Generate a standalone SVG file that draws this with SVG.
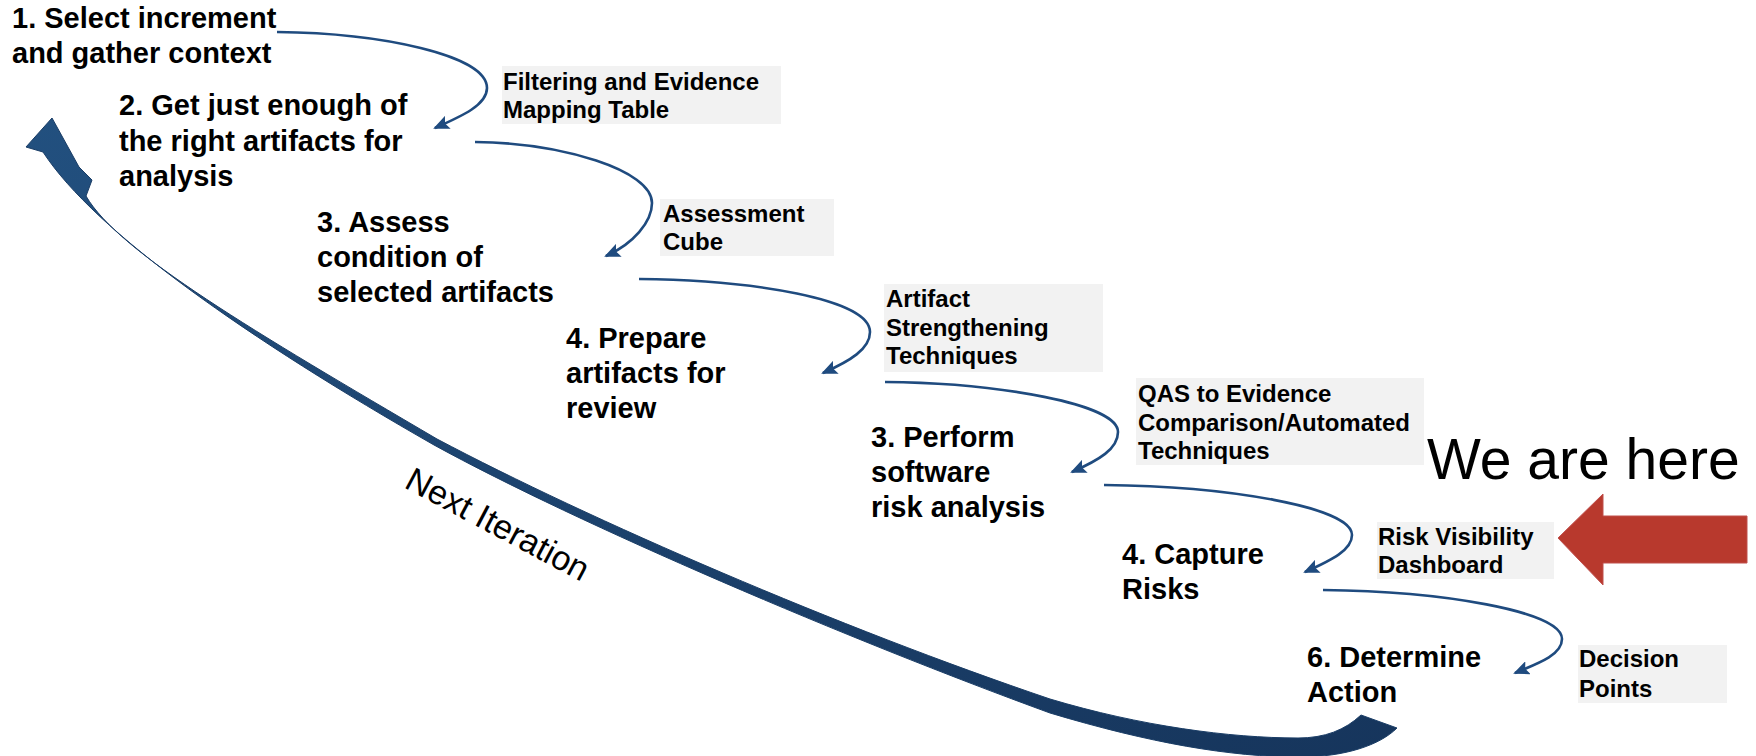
<svg xmlns="http://www.w3.org/2000/svg" width="1756" height="756" viewBox="0 0 1756 756">
<style>
.n{font-family:"Liberation Sans",Arial,sans-serif;font-weight:bold;font-size:29px;fill:#000}
.b{font-family:"Liberation Sans",Arial,sans-serif;font-weight:bold;font-size:24px;fill:#000}
.box{fill:#f2f2f2}
.c{fill:none;stroke:#1f4b7f;stroke-width:2.6;marker-end:url(#ah)}
</style>
<defs>
<marker id="ah" markerWidth="16" markerHeight="14" refX="14" refY="7" orient="auto" markerUnits="userSpaceOnUse" viewBox="0 0 16 14">
<path d="M0,0 L16,7 L0,14 L3,7 Z" fill="#1f4b7f"/>
</marker>
<linearGradient id="bg" x1="0" y1="0" x2="1" y2="1">
<stop offset="0" stop-color="#22507f"/>
<stop offset="1" stop-color="#16355c"/>
</linearGradient>
</defs>
<rect width="1756" height="756" fill="#fff"/>

<g id="next-iteration">
<path d="M52,118 L26,147 L43,152 C95,232 250,340 434,445 C580,525 850,640 1050,713 C1150,743 1230,757 1300,757 C1345,757 1380,745 1397,728 L1361,715 C1345,730 1325,738 1298,738 C1230,738 1140,726 1050,699 C840,628 590,520 437,439 C258,334 118,252 86,196 L92,180 L79,167 Z" fill="url(#bg)" stroke="#1a3d66" stroke-width="1"/>
<text transform="translate(403,487) rotate(28)" font-family="Liberation Sans, Arial, sans-serif" font-size="34" fill="#000">Next Iteration</text>
</g>

<g id="connectors">
<path class="c" d="M277,32 C380,33 487,55 487,88 C487,105 462,116 435,128"/>
<path class="c" d="M475,142 C562,143 652,170 652,203 C652,222 633,244 606,256"/>
<path class="c" d="M639,279 C752,280 870,299 870,332 C870,349 850,361 823,373"/>
<path class="c" d="M885,382 C999,383 1118,404 1118,432 C1118,449 1099,460 1072,472"/>
<path class="c" d="M1104,485 C1226,486 1352,507 1352,535 C1352,550 1332,560 1305,572"/>
<path class="c" d="M1323,590 C1440,591 1562,611 1562,639 C1562,654 1542,662 1515,673"/>
</g>

<g id="step1"><text class="n" x="12" y="28">1. Select increment</text><text class="n" x="12" y="63">and gather context</text></g>
<g id="step2"><text class="n" x="119" y="115">2. Get just enough of</text><text class="n" x="119" y="151">the right artifacts for</text><text class="n" x="119" y="186">analysis</text></g>
<g id="step3"><text class="n" x="317" y="232">3. Assess</text><text class="n" x="317" y="267">condition of</text><text class="n" x="317" y="302">selected artifacts</text></g>
<g id="step4"><text class="n" x="566" y="348">4. Prepare</text><text class="n" x="566" y="383">artifacts for</text><text class="n" x="566" y="418">review</text></g>
<g id="step5"><text class="n" x="871" y="447">3. Perform</text><text class="n" x="871" y="482">software</text><text class="n" x="871" y="517">risk analysis</text></g>
<g id="step6"><text class="n" x="1122" y="564">4. Capture</text><text class="n" x="1122" y="599">Risks</text></g>
<g id="step7"><text class="n" x="1307" y="667">6. Determine</text><text class="n" x="1307" y="702">Action</text></g>

<g id="label1"><rect class="box" x="502" y="66" width="279" height="58"/><text class="b" x="503" y="90">Filtering and Evidence</text><text class="b" x="503" y="118">Mapping Table</text></g>
<g id="label2"><rect class="box" x="660" y="199" width="174" height="57"/><text class="b" x="663" y="222">Assessment</text><text class="b" x="663" y="250">Cube</text></g>
<g id="label3"><rect class="box" x="884" y="284" width="219" height="88"/><text class="b" x="886" y="307">Artifact</text><text class="b" x="886" y="336">Strengthening</text><text class="b" x="886" y="364">Techniques</text></g>
<g id="label4"><rect class="box" x="1136" y="378" width="288" height="87"/><text class="b" x="1138" y="402">QAS to Evidence</text><text class="b" x="1138" y="431">Comparison/Automated</text><text class="b" x="1138" y="459">Techniques</text></g>
<g id="label5"><rect class="box" x="1377" y="522" width="177" height="57"/><text class="b" x="1378" y="545">Risk Visibility</text><text class="b" x="1378" y="573">Dashboard</text></g>
<g id="label6"><rect class="box" x="1578" y="645" width="149" height="58"/><text class="b" x="1579" y="667">Decision</text><text class="b" x="1579" y="697">Points</text></g>

<g id="we-are-here">
<text x="1427" y="479" font-family="Liberation Sans, Arial, sans-serif" font-size="57" fill="#000">We are here</text>
<polygon points="1558,538 1603,494 1603,516 1747,516 1747,563 1603,563 1603,585" fill="#b8392d" stroke="#c0504d" stroke-width="1"/>
</g>
</svg>
